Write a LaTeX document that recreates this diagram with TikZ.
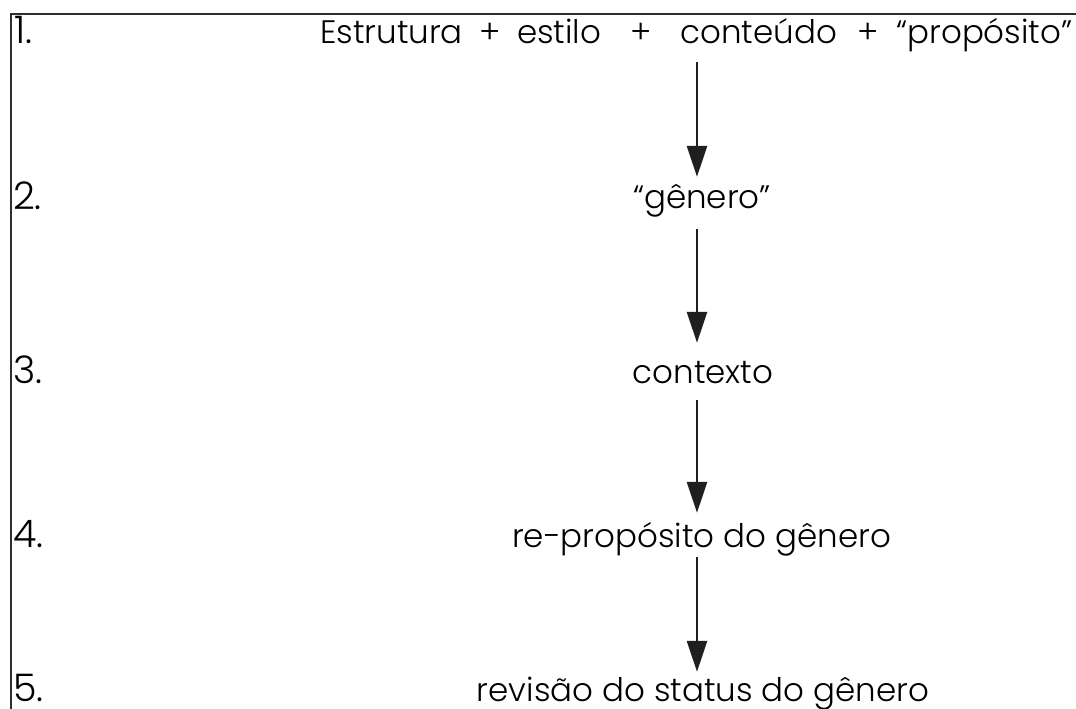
\documentclass[tikz,border=0pt]{standalone}
\usepackage{fontspec}
\setmainfont{Poppins}[UprightFont={* Light}]
\usetikzlibrary{arrows.meta}
\begin{document}
\begin{tikzpicture}[x=1pt,y=-1pt,
  lbl/.style={anchor=base, inner sep=0pt, text height=31pt, text depth=9pt, font=\fontsize{32.5}{36}\selectfont},
  num/.style={anchor=base west, inner sep=0pt, font=\fontsize{38}{40}\selectfont},
  arr/.style={-{Triangle[length=31pt,width=20pt]}, line width=2.8pt, draw=black!88, fill=black!88},
  frame/.style={line width=2pt, draw=black!82}]
\useasboundingbox (0,0) rectangle (1076,709);
\clip (0,0) rectangle (1076,709);
\draw[frame] (1090,14) -- (10.5,14) -- (10.5,720);
\node[num] (n1) at (14,44) {1.};
\node[num] (n2) at (13,209) {2.};
\node[num] (n3) at (13,383) {3.};
\node[num] (n4) at (13,547) {4.};
\node[num] (n5) at (13,701) {5.};
\node[lbl, anchor=base west] (l1) at (320,44) {Estrutura\hspace{17pt}+\hspace{16pt}estilo\hspace{29pt}+\hspace{29pt}conteúdo\hspace{20pt}+\hspace{18pt}“propósito”};
\node[lbl] (l2) at (702,208) {“gênero”};
\node[lbl] (l3) at (703,383) {contexto};
\node[lbl] (l4) at (701.5,547) {re-propósito do gênero};
\node[lbl] (l5) at (703,701) {revisão do status do gênero};
\draw[arr, shorten <=9pt, shorten >=0pt] ([xshift=-5pt]l2.north |- l1.south) -- ([xshift=-5pt]l2.north);
\draw[arr, shorten <=12pt, shorten >=9pt] ([xshift=-5pt]l2.south) -- ([xshift=-5pt]l2.south |- l3.north);
\draw[arr, shorten <=8pt, shorten >=3pt] ([xshift=-5pt]l2.south |- l3.south) -- ([xshift=-5pt]l2.south |- l4.north);
\draw[arr, shorten <=1pt, shorten >=-2pt] ([xshift=-5pt]l2.south |- l4.south) -- ([xshift=-5pt]l2.south |- l5.north);
\end{tikzpicture}
\end{document}
